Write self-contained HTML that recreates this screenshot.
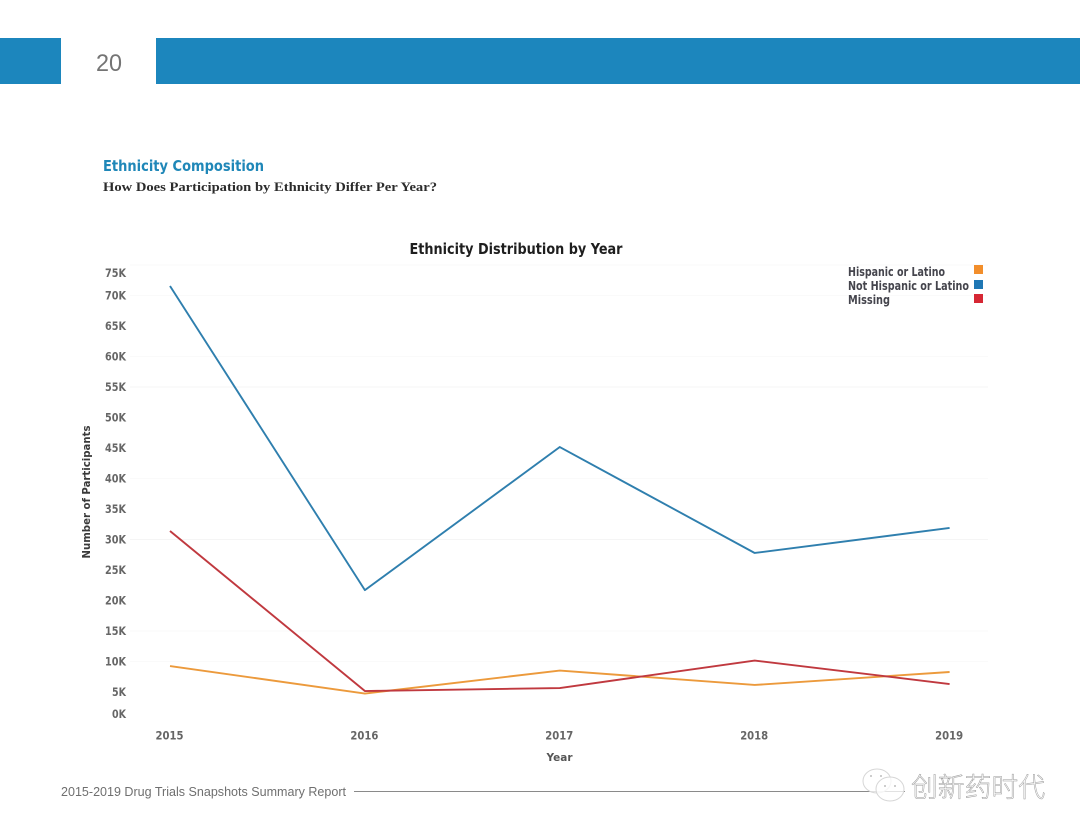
<!DOCTYPE html>
<html lang="en">
<head>
<meta charset="utf-8">
<title>Ethnicity Distribution by Year</title>
<style>
html,body{margin:0;padding:0;background:#fff;width:1080px;height:834px;overflow:hidden}
svg{display:block;font-family:"Liberation Sans",sans-serif;filter:blur(0.3px)}
.tick{font-family:"DejaVu Sans",sans-serif;font-size:11.5px;font-weight:700;fill:#666}
</style>
</head>
<body>
<svg id="page" width="1080" height="834" viewBox="0 0 1080 834" xmlns="http://www.w3.org/2000/svg">
  <rect x="0" y="38" width="61" height="46" fill="#1c86bd"/>
  <rect x="156" y="38" width="924" height="46" fill="#1c86bd"/>
  <text x="109" y="71" text-anchor="middle" font-size="24" fill="#747474" textLength="26" lengthAdjust="spacingAndGlyphs">20</text>

  <text x="103" y="171" font-family="DejaVu Sans, sans-serif" font-size="15.5" font-weight="700" fill="#1f87b8" textLength="161" lengthAdjust="spacingAndGlyphs">Ethnicity Composition</text>
  <text x="103" y="191" font-family="Liberation Serif, serif" font-size="12.5" font-weight="700" fill="#2c2c2c" textLength="334" lengthAdjust="spacingAndGlyphs">How Does Participation by Ethnicity Differ Per Year?</text>

  <text x="516" y="254" text-anchor="middle" font-family="DejaVu Sans, sans-serif" font-size="15.5" font-weight="700" fill="#1e1e1e" textLength="213" lengthAdjust="spacingAndGlyphs">Ethnicity Distribution by Year</text>

  <g id="grid"></g>
  <g id="yticks"></g>
  <g id="xticks"></g>
  <g id="series"></g>

  <text transform="translate(90,492) rotate(-90)" text-anchor="middle" font-family="DejaVu Sans, sans-serif" font-size="10.5" font-weight="700" fill="#3a3a3a" textLength="133" lengthAdjust="spacingAndGlyphs">Number of Participants</text>
  <text x="559.5" y="761" text-anchor="middle" font-family="DejaVu Sans, sans-serif" font-size="10.5" font-weight="700" fill="#555" textLength="26" lengthAdjust="spacingAndGlyphs">Year</text>

  <g font-family="DejaVu Sans, sans-serif" font-size="12" font-weight="700" fill="#45454d">
    <text x="848" y="276" textLength="97" lengthAdjust="spacingAndGlyphs">Hispanic or Latino</text>
    <rect x="974" y="265" width="9" height="9" fill="#f28e2b"/>
    <text x="848" y="290" textLength="121" lengthAdjust="spacingAndGlyphs">Not Hispanic or Latino</text>
    <rect x="974" y="280" width="9" height="9" fill="#1f77b4"/>
    <text x="848" y="304" textLength="42" lengthAdjust="spacingAndGlyphs">Missing</text>
    <rect x="974" y="294" width="9" height="9" fill="#d62734"/>
  </g>

  <text x="61" y="796" font-size="12.5" fill="#6f6f6f" textLength="285" lengthAdjust="spacingAndGlyphs">2015-2019 Drug Trials Snapshots Summary Report</text>
  <line x1="354" y1="791.5" x2="905" y2="791.5" stroke="#8a8a8a" stroke-width="1"/>

  <g>
    <g fill="#fff" fill-opacity="0.75" stroke="#d6d6d6" stroke-width="1">
      <ellipse cx="877" cy="781" rx="14" ry="12"/>
      <ellipse cx="890" cy="789" rx="14" ry="12"/>
      <circle cx="885" cy="786" r="1" fill="#bdbdbd" fill-opacity="1" stroke="none"/>
      <circle cx="895" cy="786" r="1" fill="#bdbdbd" fill-opacity="1" stroke="none"/>
      <circle cx="871" cy="776" r="1" fill="#bdbdbd" fill-opacity="1" stroke="none"/>
      <circle cx="881" cy="776" r="1" fill="#bdbdbd" fill-opacity="1" stroke="none"/>
    </g>
    <text x="911" y="797" font-family="Liberation Sans, Noto Sans CJK SC, sans-serif" font-size="27" font-weight="300" fill="#fff" stroke="#9a9a9a" stroke-width="0.5" textLength="134" lengthAdjust="spacingAndGlyphs">创新药时代</text>
  </g>
</svg>
<script>
const years = [2015, 2016, 2017, 2018, 2019];
const hispanic = [9260, 4750, 8520, 6150, 8280];
const notHispanic = [71560, 21700, 45160, 27790, 31890];
const missing = [31390, 5160, 5650, 10160, 6310];
const yTicks = [0, 5000, 10000, 15000, 20000, 25000, 30000, 35000, 40000, 45000, 50000, 55000, 60000, 65000, 70000, 75000];
const gridValues = [10000, 15000, 30000, 40000, 55000, 60000, 70000, 75000];

const NS = 'http://www.w3.org/2000/svg';
const yScale = v => 722.5 - v * 0.0061;
const xScale = yr => 170 + (yr - years[0]) * 194.9;
const labelY = v => Math.min(Math.max(yScale(v) + 4, 277), 718);

const gridG = document.getElementById('grid');
gridValues.forEach(v => {
  const ln = document.createElementNS(NS, 'line');
  
  
  ln.setAttribute('x1', 130);
  ln.setAttribute('x2', 988);
  ln.setAttribute('y1', yScale(v));
  ln.setAttribute('y2', yScale(v));
  ln.setAttribute('stroke', v === 55000 || v === 30000 ? '#f5f5f5' : '#fafafa');
  ln.setAttribute('stroke-width', 1);
  gridG.appendChild(ln);
});

const yG = document.getElementById('yticks');
yTicks.forEach(v => {
  const t = document.createElementNS(NS, 'text');
  
  
  t.setAttribute('class', 'tick');
  t.setAttribute('x', 126);
  t.setAttribute('y', labelY(v));
  t.setAttribute('text-anchor', 'end');
  t.setAttribute('textLength', v < 10000 ? 14 : 21);
  t.setAttribute('lengthAdjust', 'spacingAndGlyphs');
  t.textContent = (v / 1000) + 'K';
  yG.appendChild(t);
});

const xG = document.getElementById('xticks');
years.forEach(yr => {
  const t = document.createElementNS(NS, 'text');
  
  
  t.setAttribute('class', 'tick');
  t.setAttribute('x', xScale(yr) - 0.5);
  t.setAttribute('y', 739.5);
  t.setAttribute('text-anchor', 'middle');
  t.setAttribute('textLength', 28);
  t.setAttribute('lengthAdjust', 'spacingAndGlyphs');
  t.textContent = yr;
  xG.appendChild(t);
});

const sG = document.getElementById('series');
function drawLine(values, color, name) {
  const p = document.createElementNS(NS, 'polyline');
  
  
  p.setAttribute('fill', 'none');
  p.setAttribute('stroke', color);
  p.setAttribute('stroke-width', 1.9);
  p.setAttribute('stroke-linejoin', 'round');
  p.setAttribute('points', values.map((v, i) => xScale(years[i]) + ',' + yScale(v)).join(' '));
  sG.appendChild(p);
}
drawLine(notHispanic, '#2f7fae', 'line-not-hispanic');
drawLine(hispanic, '#ec9a3c', 'line-hispanic');
drawLine(missing, '#c0393f', 'line-missing');
</script>
</body>
</html>
